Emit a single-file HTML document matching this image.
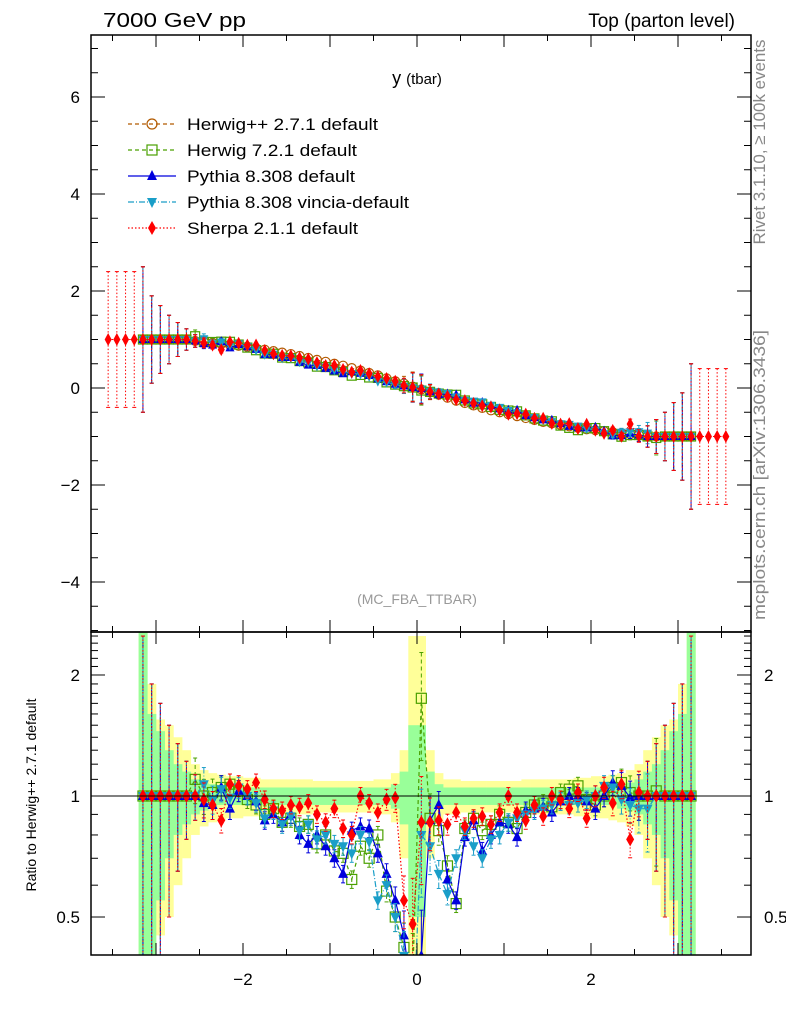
<!DOCTYPE html>
<html><head><meta charset="utf-8"><style>
html,body{margin:0;padding:0;background:#fff;width:786px;height:1024px;overflow:hidden;}
svg{display:block;font-family:"Liberation Sans",sans-serif;}
</style></head><body>
<svg id="chart" width="786" height="1024" viewBox="0 0 786 1024" xmlns="http://www.w3.org/2000/svg">
<text x="103" y="27" font-size="20" textLength="143" lengthAdjust="spacingAndGlyphs">7000 GeV pp</text>
<text x="735" y="27" font-size="19" text-anchor="end">Top (parton level)</text>
<text x="417" y="84" font-size="18" text-anchor="middle">y <tspan font-size="15">(tbar)</tspan></text>
<text x="417" y="604" font-size="14" fill="#999" text-anchor="middle">(MC_FBA_TTBAR)</text>
<text transform="translate(765,142) rotate(-90)" font-size="17" fill="#888" text-anchor="middle" textLength="205" lengthAdjust="spacingAndGlyphs">Rivet 3.1.10, ≥ 100k events</text>
<text transform="translate(765,475) rotate(-90)" font-size="17" fill="#888" text-anchor="middle" textLength="290" lengthAdjust="spacingAndGlyphs">mcplots.cern.ch [arXiv:1306.3436]</text>
<text transform="translate(36,795) rotate(-90)" font-size="14" text-anchor="middle">Ratio to Herwig++ 2.7.1 default</text>
<g id="bands"></g>
<g id="main"></g>
<g id="ratio"></g>
<g id="axes"></g>
<g id="legend"></g>
</svg>
<script>
const xsBins = [-3.55,-3.45,-3.35,-3.25,-3.15,-3.05,-2.95,-2.85,-2.75,-2.65,-2.55,-2.45,-2.35,-2.25,-2.15,-2.05,-1.95,-1.85,-1.75,-1.65,-1.55,-1.45,-1.35,-1.25,-1.15,-1.05,-0.95,-0.85,-0.75,-0.65,-0.55,-0.45,-0.35,-0.25,-0.15,-0.05,0.05,0.15,0.25,0.35,0.45,0.55,0.65,0.75,0.85,0.95,1.05,1.15,1.25,1.35,1.45,1.55,1.65,1.75,1.85,1.95,2.05,2.15,2.25,2.35,2.45,2.55,2.65,2.75,2.85,2.95,3.05,3.15,3.25,3.35,3.45,3.55];
const refValues = [1,1,1,1,1,1,1,1,1,1,0.97,0.95,0.93,0.91,0.89,0.87,0.85,0.82,0.79,0.76,0.73,0.70,0.66,0.62,0.58,0.54,0.50,0.46,0.41,0.36,0.31,0.26,0.20,0.14,0.09,0.03,-0.03,-0.09,-0.14,-0.20,-0.26,-0.31,-0.36,-0.41,-0.46,-0.50,-0.54,-0.58,-0.62,-0.66,-0.70,-0.73,-0.76,-0.79,-0.82,-0.85,-0.87,-0.89,-0.91,-0.93,-0.95,-0.97,-1,-1,-1,-1,-1,-1,-1,-1,-1,-1];
const N=null;
const ratioHerwigpp = [N,N,N,N,1,1,1,1,1,1,1,1,1,1,1,1,1,1,1,1,1,1,1,1,1,1,1,1,1,1,1,1,1,1,1,1,1,1,1,1,1,1,1,1,1,1,1,1,1,1,1,1,1,1,1,1,1,1,1,1,1,1,1,1,1,1,1,1,N,N,N,N];
const ratioHerwig7 = [N,N,N,N,1,1,1,1,1,1,1.1,1.0,1.02,1.05,1.07,1.03,0.98,0.95,0.90,0.93,0.86,0.88,0.84,0.85,0.76,0.80,0.73,0.72,0.62,0.75,0.70,0.80,0.58,0.50,0.42,0.35,1.75,0.88,0.82,0.67,0.54,0.83,0.88,0.82,0.85,0.90,0.86,0.83,0.91,0.95,0.96,0.94,1.02,1.04,1.06,0.98,0.95,1.0,1.05,1.08,1.02,1.0,1,1.03,1,1,1,1,N,N,N,N];
const ratioPythia = [N,N,N,N,1,1,1,1,1,1,1.0,0.96,0.95,1.05,0.93,1.03,1.0,0.97,0.87,0.90,0.86,0.90,0.80,0.76,0.80,0.75,0.70,0.64,0.82,0.84,0.83,0.72,0.64,0.55,0.45,0.30,0.40,0.87,0.95,0.62,0.55,0.79,0.87,0.73,0.80,0.86,0.85,0.79,0.92,0.93,0.94,0.91,0.97,1.0,1.0,0.97,0.93,1.0,1.08,1.06,0.99,1.0,1,1,1,1,1,1,N,N,N,N];
const ratioVincia = [N,N,N,N,1,1,1,1,1,1,1.0,1.07,0.98,1.04,0.99,1.05,1.0,0.96,0.88,0.92,0.85,0.89,0.82,0.85,0.78,0.80,0.76,0.75,0.72,0.80,0.77,0.55,0.60,0.50,0.40,0.25,0.80,0.75,0.64,0.57,0.70,0.82,0.75,0.70,0.78,0.80,0.86,0.88,0.90,0.92,0.93,0.95,0.97,0.95,0.96,0.98,1.0,1.06,1.05,0.98,0.95,0.93,0.93,1,1,1,1,1,N,N,N,N];
const ratioSherpa = [1,1,1,1,1,1,1,1,1,1,1.0,0.98,0.95,0.87,1.07,1.06,1.04,1.08,0.98,0.93,0.92,0.95,0.94,0.96,0.90,0.86,0.93,0.83,0.80,1.0,0.96,0.91,0.98,0.99,0.55,0.48,0.86,0.86,0.87,0.85,0.91,0.84,0.88,0.89,0.85,0.91,1.0,0.91,0.87,0.95,0.89,1.0,0.98,0.93,1.02,0.88,1.0,1.05,0.96,1.07,0.78,1.02,1,1,1,1,1,1,1,1,1,1];
const relErr = [1.4,1.4,1.4,1.4,1.5,0.9,0.7,0.5,0.35,0.22,0.13,0.1,0.08,0.07,0.06,0.06,0.05,0.05,0.05,0.05,0.05,0.05,0.05,0.05,0.05,0.05,0.05,0.05,0.05,0.05,0.05,0.05,0.06,0.08,0.15,0.3,0.3,0.15,0.08,0.06,0.05,0.05,0.05,0.05,0.05,0.05,0.05,0.05,0.05,0.05,0.05,0.05,0.05,0.05,0.05,0.05,0.06,0.06,0.07,0.08,0.1,0.13,0.22,0.35,0.5,0.7,0.9,1.5,1.4,1.4,1.4,1.4];
const bandGreen = [N,N,N,N,2.0,0.6,0.45,0.3,0.2,0.15,0.1,0.08,0.07,0.05,0.05,0.05,0.05,0.05,0.05,0.05,0.05,0.05,0.05,0.05,0.05,0.05,0.05,0.05,0.05,0.05,0.05,0.05,0.05,0.07,0.15,0.5,0.5,0.15,0.07,0.05,0.05,0.05,0.05,0.05,0.05,0.05,0.05,0.05,0.05,0.05,0.05,0.05,0.05,0.05,0.05,0.05,0.05,0.05,0.05,0.07,0.08,0.1,0.15,0.2,0.3,0.45,0.6,2.0,N,N,N,N];
const bandYellow = [N,N,N,N,2.0,0.9,0.55,0.5,0.4,0.3,0.2,0.16,0.14,0.13,0.12,0.12,0.11,0.11,0.1,0.1,0.1,0.1,0.1,0.1,0.09,0.09,0.09,0.09,0.09,0.09,0.09,0.1,0.1,0.14,0.3,1.5,1.5,0.3,0.14,0.1,0.1,0.09,0.09,0.09,0.09,0.09,0.09,0.09,0.1,0.1,0.1,0.1,0.1,0.1,0.11,0.11,0.12,0.12,0.13,0.14,0.16,0.2,0.3,0.4,0.5,0.55,0.9,2.0,N,N,N,N];
const xTicks = [-2,0,2];
const mainYTicks = [-4,-2,0,2,4,6];
const ratioYTicks = [0.5,1,2];

const L=91,R=751,MT=35,MB=632,RT=632,RB=955;
const X=v=>417+87*v;
const YM=v=>388-48.5*v;
const YR=v=>796-402*Math.log10(v);
const NS="http://www.w3.org/2000/svg";
function mk(tag,attrs,parent){const e=document.createElementNS(NS,tag);for(const k in attrs)e.setAttribute(k,attrs[k]);parent.appendChild(e);return e;}
const svg=document.getElementById('chart');
const defs=mk('defs',{},svg);
const cm=mk('clipPath',{id:'cm'},defs);mk('rect',{x:L,y:MT,width:R-L,height:MB-MT},cm);
const cr=mk('clipPath',{id:'cr'},defs);mk('rect',{x:L,y:RT,width:R-L,height:RB-RT},cr);

const series=[
 {name:'herwigpp',label:'Herwig++ 2.7.1 default',len:191,color:'#b25a00',dash:'4,3',marker:'circle',ratio:ratioHerwigpp},
 {name:'herwig7',label:'Herwig 7.2.1 default',len:170,color:'#4aa000',dash:'4,3',marker:'square',ratio:ratioHerwig7},
 {name:'pythia',label:'Pythia 8.308 default',len:168,color:'#0000dd',dash:'',marker:'tri-up',ratio:ratioPythia},
 {name:'vincia',label:'Pythia 8.308 vincia-default',len:222,color:'#1a9ec8',dash:'6,2,1,2',marker:'tri-down',ratio:ratioVincia},
 {name:'sherpa',label:'Sherpa 2.1.1 default',len:171,color:'#ff0000',dash:'1.5,2',marker:'diamond',ratio:ratioSherpa}
];
function marker(type,cx,cy,color,g,s){
 s=s||5;
 let e;
 if(type==='circle')e=mk('circle',{cx,cy,r:s,fill:'none',stroke:color,'stroke-width':1.2},g);
 else if(type==='square')e=mk('rect',{x:cx-s,y:cy-s,width:2*s,height:2*s,fill:'none',stroke:color,'stroke-width':1.2},g);
 else if(type==='tri-up')e=mk('polygon',{points:`${cx},${cy-s-1} ${cx-s},${cy+s-1} ${cx+s},${cy+s-1}`,fill:color},g);
 else if(type==='tri-down')e=mk('polygon',{points:`${cx},${cy+s+1} ${cx-s},${cy-s+1} ${cx+s},${cy-s+1}`,fill:color},g);
 else e=mk('polygon',{points:`${cx},${cy-s-2} ${cx-s+1},${cy} ${cx},${cy+s+2} ${cx+s-1},${cy}`,fill:color},g);
 return e;
}
const gb=document.getElementById('bands');
gb.setAttribute('clip-path','url(#cr)');
[[bandYellow,'#ffff99','yellow'],[bandGreen,'#99ff99','green']].forEach(([arr,col,nm])=>{
 arr.forEach((w,i)=>{ if(w===null)return;
  const lo=Math.max(1-w,0.05),hi=1+w;
  const r=mk('rect',{x:X(xsBins[i]-0.05),width:87*0.1+0.3,y:YR(hi),height:YR(lo)-YR(hi),fill:col},gb);
  
  
 });
});
const gm=document.getElementById('main');
gm.setAttribute('clip-path','url(#cm)');
const gr=document.getElementById('ratio');
gr.setAttribute('clip-path','url(#cr)');
series.forEach(s=>{
 const mg=mk('g',{},gm);
 
 
 const rg=mk('g',{},gr);
 
 
 let pts=[],rpts=[];
 xsBins.forEach((x,i)=>{
  const r=s.ratio[i]; if(r===null)return;
  const v=refValues[i]*r;
  const e=relErr[i]*Math.max(Math.abs(refValues[i]),1);
  pts.push(X(x)+','+YM(v));
  if(relErr[i]>0.06){
   mk('line',{x1:X(x),x2:X(x),y1:YM(v+e),y2:YM(v-e),stroke:s.color,'stroke-width':1,'stroke-dasharray':s.dash},mg);
   mk('line',{x1:X(x)-2,x2:X(x)+2,y1:YM(v+e),y2:YM(v+e),stroke:s.color},mg);
   mk('line',{x1:X(x)-2,x2:X(x)+2,y1:YM(v-e),y2:YM(v-e),stroke:s.color},mg);
  }
  if(ratioHerwigpp[i]!==null){
   const re=relErr[i];
   rpts.push(X(x)+','+YR(r));
   if(s.name!=='herwigpp'){
    const lo=Math.max(r*(1-re),0.05);
    mk('line',{x1:X(x),x2:X(x),y1:YR(r*(1+re)),y2:YR(lo),stroke:s.color,'stroke-width':1,'stroke-dasharray':s.dash},rg);
    mk('line',{x1:X(x)-2,x2:X(x)+2,y1:YR(r*(1+re)),y2:YR(r*(1+re)),stroke:s.color},rg);
    mk('line',{x1:X(x)-2,x2:X(x)+2,y1:YR(lo),y2:YR(lo),stroke:s.color},rg);
   }
  }
 });
 mk('polyline',{points:pts.join(' '),fill:'none',stroke:s.color,'stroke-width':1,'stroke-dasharray':s.dash},mg);
 if(s.name!=='herwigpp')mk('polyline',{points:rpts.join(' '),fill:'none',stroke:s.color,'stroke-width':1.2,'stroke-dasharray':s.dash},rg);
 xsBins.forEach((x,i)=>{
  const r=s.ratio[i]; if(r===null)return;
  const m=marker(s.marker,X(x),YM(refValues[i]*r),s.color,mg,4.5);
  
  
  if(ratioHerwigpp[i]!==null && s.name!=='herwigpp'){
   const m2=marker(s.marker,X(x),YR(r),s.color,rg,5);
   
   
  }
 });
});
const ax=document.getElementById('axes');
mk('line',{x1:L,x2:R,y1:YR(1),y2:YR(1),stroke:'#000','stroke-width':1},ax);
mk('rect',{x:L,y:MT,width:R-L,height:MB-MT,fill:'none',stroke:'#000','stroke-width':1.5},ax);
mk('rect',{x:L,y:RT,width:R-L,height:RB-RT,fill:'none',stroke:'#000','stroke-width':1.5},ax);
for(let k=-7;k<=7;k++){const v=k*0.5;const px=X(v);if(px<L||px>R)continue;
 const major=Number.isInteger(v);const len=major?12:6;
 [[MT,1],[MB,-1],[RT,1],[RB,-1]].forEach(([y0,d])=>mk('line',{x1:px,x2:px,y1:y0,y2:y0+d*len,stroke:'#000'},ax));
}
xTicks.forEach(v=>{const t=mk('text',{x:X(v),y:985,'font-size':17,'text-anchor':'middle'},ax);t.textContent=v<0?'−'+Math.abs(v):String(v);
 });
for(let k=-10;k<=14;k++){const v=k*0.5;const py=YM(v);if(py<MT||py>MB)continue;
 const major=Number.isInteger(v)&&v%2===0;const len=major?14:7;
 mk('line',{x1:L,x2:L+len,y1:py,y2:py,stroke:'#000'},ax);mk('line',{x1:R,x2:R-len,y1:py,y2:py,stroke:'#000'},ax);}
mainYTicks.forEach(v=>{const t=mk('text',{x:80,y:YM(v)+6,'font-size':17,'text-anchor':'end'},ax);t.textContent=v<0?'−'+Math.abs(v):String(v);
 });
[0.4,0.5,0.6,0.7,0.8,0.9,1,1.1,1.2,1.3,1.4,1.5,1.6,1.7,1.8,1.9,2,2.1,2.2,2.3,2.4,2.5].forEach(v=>{const py=YR(v);if(py<RT||py>RB)return;
 const major=ratioYTicks.includes(v);const len=major?14:7;
 mk('line',{x1:L,x2:L+len,y1:py,y2:py,stroke:'#000'},ax);mk('line',{x1:R,x2:R-len,y1:py,y2:py,stroke:'#000'},ax);});
ratioYTicks.forEach(v=>{
 const t=mk('text',{x:80,y:YR(v)+6,'font-size':17,'text-anchor':'end'},ax);t.textContent=String(v);
 
 const t2=mk('text',{x:764,y:YR(v)+6,'font-size':17,'text-anchor':'start'},ax);t2.textContent=String(v);
 });
const lg=document.getElementById('legend');
series.forEach((s,i)=>{const y=124+26*i;const g=mk('g',{},lg);
 
 
 mk('line',{x1:128,x2:176,y1:y,y2:y,stroke:s.color,'stroke-width':1.2,'stroke-dasharray':s.dash},g);
 marker(s.marker,152,y,s.color,g,5);
 const t=mk('text',{x:187,y:y+6,'font-size':17,textLength:s.len,lengthAdjust:'spacingAndGlyphs'},g);t.textContent=s.label;});
</script>
</body></html>
